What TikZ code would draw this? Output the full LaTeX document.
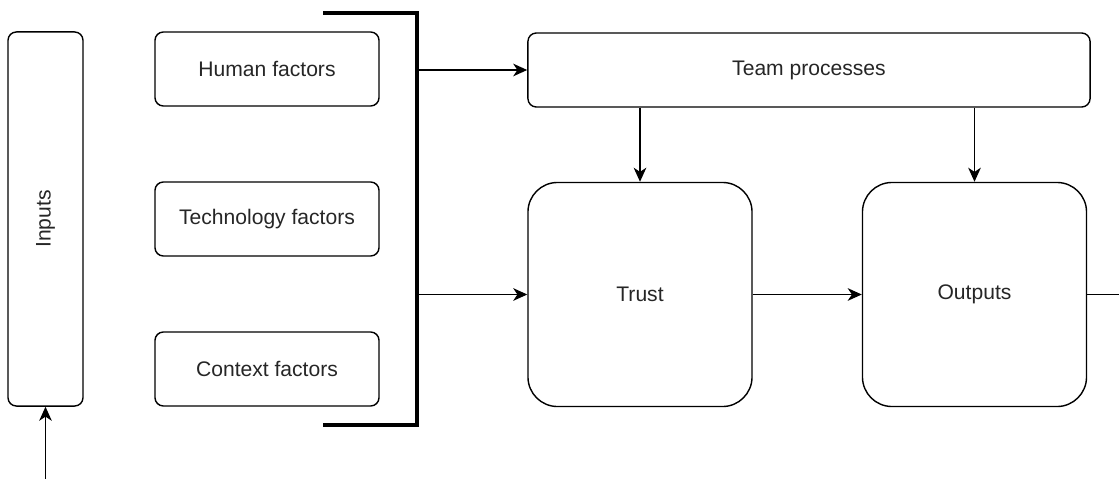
\documentclass[tikz,border=0pt]{standalone}
\usepackage{fontspec}
\setmainfont{Liberation Sans}
\usetikzlibrary{arrows.meta}

\tikzset{
  box/.style={draw, line width=1pt, rounded corners=6pt, minimum width=5.6cm, minimum height=1.85cm, inner sep=0pt, text=black!85, font=\fontsize{15}{18}\selectfont},
  bigbox/.style={box, rounded corners=21pt, minimum height=5.6cm},
  arr/.style={-{Stealth[length=10pt,width=9pt,inset=3pt]}, line width=1pt}
}

\begin{document}
\begin{tikzpicture}[x=0.025cm, y=-0.025cm]
\useasboundingbox (0,0) rectangle (1119,479);

% inputs on the left
\node[box, minimum width=1.875cm, minimum height=9.35cm] (inputs) at (45.5,219) {};
\node[rotate=90, text=black!85, font=\fontsize{15}{18}\selectfont] (inputslabel) at (inputs.center) {Inputs};

% the three factors
\foreach \n/\t/\y in {human/Human factors/69, tech/Technology factors/219, context/Context factors/369}{
  \node[box] (\n) at (267,\y) {\t};
}

% bracket round the factors
\coordinate (brtl) at (323,13);
\coordinate (brtr) at (417,13);
\coordinate (brbr) at (417,425);
\coordinate (brbl) at (323,425);
\draw[line width=2.2pt] (brtl) -- (brtr) -- (brbr) -- (brbl);

% processes, trust, outputs
\node[box, minimum width=14.05cm] (team) at (809,70) {Team processes};
\node[bigbox] (trust) at (640,294.5) {Trust};
\node[bigbox] (outputs) at (974.5,294.5) {Outputs};

\draw[arr] (brtr |- team.west) -- (team.west);
\draw[arr] (brtr |- trust.west) -- (trust.west);
\draw[arr] (team.south -| trust.north) -- (trust.north);
\draw[arr] (team.south -| outputs.north) -- (outputs.north);
\draw[arr] (trust.east) -- (outputs.east -| outputs.west);

% loose ends
\coordinate (rim) at (1119,294.5);
\coordinate (inlet) at (45.5,479);
\draw[line width=1pt] (outputs.east) -- (rim);
\draw[arr] (inlet) -- (inputs.south);

\end{tikzpicture}
\end{document}
